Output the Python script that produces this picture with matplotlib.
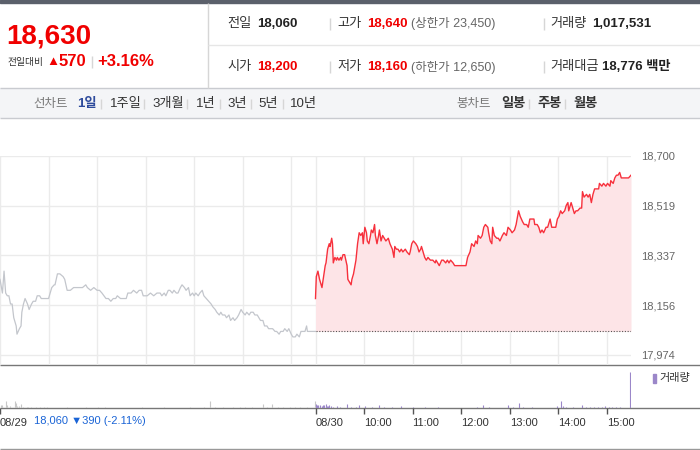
import matplotlib
matplotlib.use('Agg')
import matplotlib.pyplot as plt
from matplotlib.patches import Rectangle

plt.rcParams['font.family'] = ['Liberation Sans', 'Noto Sans CJK KR', 'DejaVu Sans']

# 08/29 분별 가격 (09:00 기준 경과 분)
prev_min = [0, 3, 5, 7, 9, 11, 13, 15, 17, 20, 21, 24, 26, 27, 29, 31, 34, 36, 39, 41,
            44, 46, 49, 51, 54, 58, 60, 62, 64, 67, 68, 71, 74, 78, 80, 83, 87, 91, 97, 102,
            106, 108, 112, 116, 120, 123, 126, 131, 134, 137, 140, 143, 145, 149, 156, 158, 162, 165, 169, 172,
            175, 177, 182, 186, 190, 194, 198, 200, 203, 205, 208, 210, 213, 215, 218, 220, 223, 225, 228, 230,
            233, 235, 238, 240, 242, 245, 247, 250, 252, 255, 258, 261, 263, 266, 268, 271, 273, 275, 278, 280,
            283, 285, 288, 290, 293, 295, 298, 300, 303, 305, 308, 310, 313, 315, 318, 320, 322, 325, 327, 330,
            332, 335, 337, 340, 342, 345, 347, 350, 352, 355, 357, 360, 362, 365, 367, 370, 372, 375, 377, 379,
            380, 390]
prev_price = [18250, 18200, 18280, 18200, 18190, 18190, 18160, 18160, 18110, 18080, 18050, 18070, 18080, 18130, 18160, 18180, 18160, 18140, 18160, 18170,
              18170, 18190, 18190, 18180, 18180, 18180, 18180, 18200, 18220, 18230, 18230, 18270, 18270, 18260, 18250, 18210, 18210, 18220, 18220, 18220,
              18230, 18220, 18210, 18220, 18210, 18210, 18200, 18180, 18180, 18170, 18180, 18180, 18190, 18180, 18180, 18200, 18200, 18210, 18200, 18210,
              18210, 18190, 18190, 18200, 18190, 18200, 18200, 18190, 18200, 18190, 18210, 18210, 18200, 18210, 18200, 18200, 18220, 18230, 18220, 18210,
              18220, 18190, 18200, 18190, 18200, 18190, 18200, 18210, 18190, 18180, 18170, 18160, 18150, 18140, 18130, 18120, 18130, 18120, 18120, 18110,
              18120, 18100, 18110, 18100, 18110, 18120, 18140, 18130, 18120, 18130, 18120, 18130, 18130, 18120, 18120, 18110, 18100, 18100, 18080, 18080,
              18070, 18070, 18070, 18060, 18060, 18050, 18060, 18060, 18070, 18060, 18070, 18050, 18040, 18040, 18050, 18040, 18060, 18060, 18060, 18080,
              18060, 18060]

# 08/30 분별 가격
today_min = [0, 1, 3, 5, 7, 8, 10, 12, 13, 15, 17, 18, 20, 21, 22, 24, 26, 27, 29, 31,
             32, 34, 36, 39, 40, 42, 44, 45, 47, 50, 52, 54, 56, 58, 59, 61, 63, 64, 66, 68,
             69, 71, 73, 74, 76, 78, 79, 81, 83, 85, 87, 90, 92, 95, 97, 98, 100, 102, 104, 106,
             108, 111, 113, 116, 117, 119, 121, 124, 126, 128, 130, 131, 133, 135, 137, 139, 142, 145, 148, 149,
             151, 153, 156, 158, 161, 163, 165, 167, 170, 172, 175, 177, 186, 188, 191, 193, 196, 198, 200, 201,
             204, 206, 208, 210, 213, 214, 216, 218, 219, 221, 224, 226, 228, 231, 233, 236, 238, 241, 243, 246,
             248, 251, 253, 256, 258, 261, 263, 265, 267, 270, 271, 274, 276, 278, 280, 282, 285, 287, 290, 292,
             294, 297, 299, 301, 303, 305, 308, 310, 312, 313, 316, 318, 320, 322, 324, 327, 329, 330, 332, 335,
             337, 339, 341, 343, 345, 347, 350, 351, 354, 356, 359, 361, 364, 365, 368, 370, 372, 374, 376, 378,
             381, 387, 390]
today_price = [18180, 18260, 18280, 18250, 18230, 18220, 18260, 18300, 18310, 18360, 18380, 18370, 18400, 18380, 18310, 18330, 18320, 18330, 18320, 18330,
               18320, 18340, 18340, 18300, 18250, 18240, 18230, 18250, 18270, 18320, 18380, 18420, 18410, 18420, 18380, 18440, 18420, 18390, 18380, 18410,
               18430, 18420, 18450, 18410, 18380, 18410, 18430, 18390, 18410, 18400, 18390, 18400, 18380, 18360, 18330, 18370, 18360, 18360, 18350, 18360,
               18350, 18360, 18350, 18340, 18350, 18380, 18390, 18380, 18370, 18350, 18360, 18370, 18350, 18330, 18320, 18330, 18320, 18320, 18310, 18320,
               18310, 18300, 18320, 18320, 18310, 18320, 18310, 18320, 18310, 18300, 18300, 18300, 18300, 18330, 18350, 18380, 18370, 18390, 18380, 18410,
               18400, 18410, 18440, 18450, 18440, 18420, 18390, 18380, 18440, 18410, 18400, 18400, 18390, 18410, 18420, 18410, 18440, 18430, 18420, 18430,
               18450, 18500, 18480, 18460, 18450, 18450, 18440, 18470, 18470, 18470, 18450, 18450, 18440, 18420, 18430, 18420, 18440, 18440, 18470, 18440,
               18440, 18440, 18470, 18480, 18500, 18490, 18500, 18520, 18530, 18500, 18530, 18510, 18490, 18500, 18500, 18510, 18510, 18570, 18550, 18560,
               18550, 18560, 18530, 18560, 18580, 18580, 18580, 18600, 18590, 18600, 18590, 18600, 18590, 18610, 18600, 18620, 18630, 18630, 18640, 18620,
               18620, 18620, 18630]

# 거래량 (주)
prev_vol_min = [1, 3, 7, 9, 12, 18, 20, 21, 24, 26, 29, 33, 35, 38, 45, 49, 54, 58, 83, 106,
                121, 130, 176, 203, 235, 252, 259, 266, 276, 288, 297, 303, 312, 325, 330, 336, 344, 350, 359, 365,
                371, 379, 389]
prev_vol = [5300, 4300, 11700, 5300, 4000, 11700, 8000, 4000, 4000, 6400, 2400, 2400, 2400, 1600, 1600, 1600, 1600, 1600, 2000, 1600,
            2400, 2400, 1600, 1600, 1600, 1600, 10700, 1600, 1600, 2000, 1600, 1600, 1600, 6900, 2400, 6900, 2000, 1600, 2000, 1600,
            1600, 2000, 11700]
today_vol_min = [1, 2, 3, 5, 6, 8, 9, 11, 13, 14, 16, 17, 19, 22, 26, 30, 39, 44, 50, 54,
                 61, 70, 78, 85, 95, 106, 120, 135, 151, 200, 207, 215, 238, 244, 251, 257, 268, 299, 303, 306,
                 310, 318, 329, 334, 339, 344, 349, 354, 358, 363, 367, 372, 377, 389]
today_vol = [6000, 4800, 5300, 4000, 4800, 4000, 5300, 4300, 6000, 4000, 3200, 5300, 3200, 2400, 3200, 2400, 6400, 2400, 2400, 4800,
             3200, 2400, 4800, 2400, 2400, 3200, 2000, 2400, 2400, 2400, 4300, 2000, 5300, 2400, 8000, 2400, 2000, 3200, 11700, 3200,
             2400, 2000, 4800, 2400, 2000, 2400, 2400, 2400, 3200, 2400, 2000, 2400, 2400, 58000]

prev_close = 18060
price_ticks = [17974, 18156, 18337, 18519, 18700]
tick_hours = [0, 6.5, 7.5, 8.5, 9.5, 10.5, 11.5, 12.5]
tick_labels = ['08/29', '08/30', '10:00', '11:00', '12:00', '13:00', '14:00', '15:00']
grid_hours = [0, 1, 2, 3, 4, 5, 6, 6.5, 7.5, 8.5, 9.5, 10.5, 11.5, 12.5]

RED = '#f00000'
W, H = 700, 450

fig = plt.figure(figsize=(7, 4.5), dpi=100)


def px_axes(left, top, right, bottom):
    return fig.add_axes([left / W, 1 - bottom / H, (right - left) / W, (bottom - top) / H])


# 배경 / 헤더 (픽셀 좌표)
bg = fig.add_axes([0, 0, 1, 1])
bg.set_xlim(0, W)
bg.set_ylim(H, 0)
bg.axis('off')

bg.add_patch(Rectangle((0, 0), W, 3, color='#5b606b'))
bg.add_patch(Rectangle((0, 88), W, 30, facecolor='#f4f5f7', edgecolor='none'))
bg.hlines([88, 118], 0, W, color='#c9cbd0', lw=1)
bg.vlines(208, 3, 88, color='#d6d6d6', lw=1)
bg.hlines(45, 208, W, color='#e6e6e6', lw=1)

bg.text(6, 36, '18,630', color=RED, fontsize=20, fontweight='bold', va='center')
bg.text(8, 62, '전일대비', color='#333', fontsize=7, va='center')
bg.text(46, 62, '▲', color=RED, fontsize=9.5, va='center')
bg.text(59, 62, '570', color=RED, fontsize=12, fontweight='bold', va='center')
bg.vlines(92, 56, 68, color='#d6d6d6', lw=1)
bg.text(97, 62, '+3.16%', color=RED, fontsize=12, fontweight='bold', va='center')

rows = [
    (24, '전일', '18,060', '#222', '고가', '18,640', '(상한가 23,450)', '거래량', '1,017,531'),
    (67, '시가', '18,200', RED, '저가', '18,160', '(하한가 12,650)', '거래대금', '18,776 백만'),
]
for y, l1, v1, c1, l2, v2, note, l3, v3 in rows:
    bg.text(227, y, l1, color='#333', fontsize=9.5, va='center')
    bg.text(257, y, v1, color=c1, fontsize=9.5, fontweight='bold', va='center')
    bg.vlines([330, 544], y - 6, y + 6, color='#d6d6d6', lw=1)
    bg.text(337, y, l2, color='#333', fontsize=9.5, va='center')
    bg.text(367, y, v2, color=RED, fontsize=9.5, fontweight='bold', va='center')
    bg.text(411, y, note, color='#666', fontsize=9, va='center')
    bg.text(550, y, l3, color='#333', fontsize=9.5, va='center')
    bg.text(602 if l3 == '거래대금' else 592, y, v3, color='#222', fontsize=9.5, fontweight='bold', va='center')

# 탭
bg.text(33, 104, '선차트', color='#777', fontsize=9, va='center')
bg.text(77, 104, '1일', color='#2e4b9c', fontsize=9.5, fontweight='bold', va='center')
for x, t in [(110, '1주일'), (152, '3개월'), (196, '1년'), (227, '3년'), (258, '5년'), (290, '10년')]:
    bg.text(x, 104, t, color='#333', fontsize=9.5, va='center')
bg.vlines([101, 144, 187, 220, 251, 283, 529, 565], 99, 109, color='#d6d6d6', lw=1)
bg.text(456, 104, '봉차트', color='#777', fontsize=9, va='center')
for x, t in [(501, '일봉'), (537, '주봉'), (573, '월봉')]:
    bg.text(x, 104, t, color='#333', fontsize=9.5, fontweight='bold', va='center')

# 가격 차트
ax = px_axes(0, 156, 631, 365)
ax.set_facecolor('none')
ax.set_xlim(0, 13)
ax.set_ylim(17937.5, 18700)
ax.set_xticks(grid_hours)
ax.set_yticks(price_ticks)
ax.set_yticklabels([f'{v:,}' for v in price_ticks])
ax.yaxis.tick_right()
ax.tick_params(axis='x', length=0, labelbottom=False)
ax.tick_params(axis='y', length=0, pad=7, labelsize=8, labelcolor='#666')
ax.grid(color='#ebebeb', lw=1)
ax.set_axisbelow(True)
for s in ax.spines.values():
    s.set_visible(False)

prev_x = [m / 60 for m in prev_min]
today_x = [6.5 + m / 60 for m in today_min]
ax.plot(prev_x, prev_price, color='#c3c6cc', lw=0.9)
ax.fill_between(today_x, today_price, prev_close, color='#fde4e7', lw=0)
ax.plot(today_x, today_price, color='#f7303c', lw=1.0)
ax.hlines(prev_close, 6.5, 13, color='#555', lw=0.8, linestyles=(0, (1, 1.5)))

# 거래량
axv = px_axes(0, 365, 631, 408)
axv.set_facecolor('none')
axv.set_xlim(0, 13)
axv.set_ylim(0, 68800)
axv.vlines([m / 60 for m in prev_vol_min], 0, prev_vol, color='#c8c8c8', lw=0.8)
axv.vlines([6.5 + m / 60 for m in today_vol_min], 0, today_vol, color='#9b87c9', lw=0.8)
axv.set_yticks([])
axv.set_xticks(tick_hours)
axv.set_xticklabels(tick_labels, ha='left')
axv.tick_params(axis='x', length=4, width=1, color='#555', pad=3, labelsize=8, labelcolor='#333')
for s in axv.spines.values():
    s.set_visible(False)

bg.hlines([365, 408], 0, W, color='#777', lw=1)
bg.hlines(449, 0, W, color='#999', lw=1)
bg.text(34, 421, '18,060 ▼390 (-2.11%)', color='#1a64d6', fontsize=8, va='center')
bg.add_patch(Rectangle((653, 374), 3, 9, color='#9b87c9'))
bg.text(659, 378.5, '거래량', color='#333', fontsize=8, va='center')

fig.savefig('out.png', dpi=100)
